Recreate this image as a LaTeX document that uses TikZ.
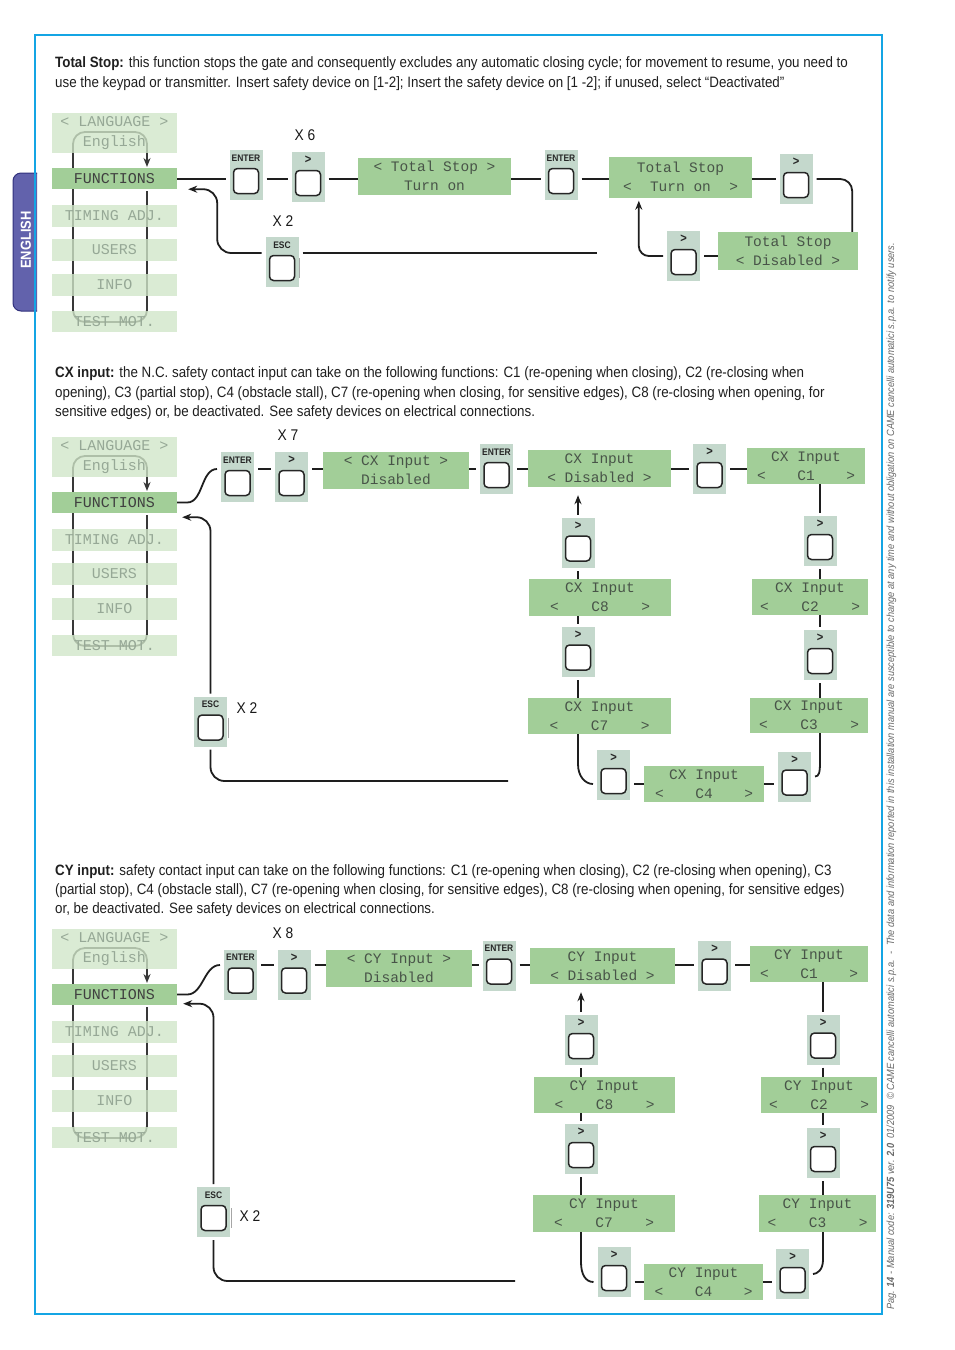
\documentclass[tikz,border=0pt]{standalone}
\usepackage{fontspec}
\setmainfont{Liberation Sans}[FakeStretch=0.89]
\newfontfamily\lcdfont{Liberation Mono}
\usetikzlibrary{arrows.meta,calc}
\definecolor{lcdg}{RGB}{162,206,152}
\definecolor{mlg}{RGB}{208,230,200}
\definecolor{btng}{RGB}{196,216,204}
\definecolor{lcdtxt}{RGB}{72,84,72}
\definecolor{mtxt}{RGB}{150,168,150}
\definecolor{linec}{RGB}{30,30,30}
\definecolor{bordc}{RGB}{20,165,228}
\definecolor{tabc}{RGB}{98,98,172}
\definecolor{tabd}{RGB}{50,50,125}
\definecolor{sidec}{RGB}{105,105,105}
\newcommand\lrline[2]{\makebox[#1]{<\hfill#2\hfill>}}
\newcommand\gtsym{{\fontsize{12.5}{12.5}\selectfont\bfseries >}}
\tikzset{
  ln/.style={draw=linec, line width=1.8pt},
  arr/.style={ln, -{Stealth[length=9pt,width=7pt]}},
  loopln/.style={draw=black!78, line width=1.8pt, -{Stealth[length=9pt,width=7pt]}},
  lcd/.style={fill=lcdg, inner sep=0pt, align=center, text=lcdtxt, font=\lcdfont\fontsize{14.5}{19}\selectfont},
  mlight/.style={fill=mlg, fill opacity=0.78, text opacity=1, minimum width=125pt, inner sep=0pt, align=center, text=mtxt, font=\lcdfont\fontsize{15}{20}\selectfont},
  mfun/.style={fill=lcdg, minimum width=125pt, minimum height=21pt, inner sep=0pt, text=black!75, font=\lcdfont\fontsize{15}{20}\selectfont},
  btnbg/.style={fill=btng, minimum width=33pt, minimum height=50pt, inner sep=0pt, outer xsep=4pt, outer ysep=3pt},
  btnlbl/.style={inner sep=0pt, text=black!85, font=\fontsize{9.5}{9.5}\selectfont\bfseries},
  btninner/.style={draw=black!85, line width=1.5pt, fill=white, rounded corners=4pt, minimum size=25pt, inner sep=0pt},
  escmark/.style={draw=gray!70, line width=1pt},
  xlbl/.style={inner sep=0pt, font=\fontsize{15.5}{15.5}\selectfont, text=black!90},
  body/.style={anchor=base west, inner sep=0pt, text=black!88, font=\fontsize{15}{16}\selectfont},
}
\newcommand\mkbtn[4]{%
  \node[btnbg] (#1) at (#2,#3) {};
  \node[btnlbl] (#1l) at (#2,{#3-17}) {#4};
  \node[btninner] (#1i) at (#2,{#3+6}) {};
}
\newcommand\mkgt[3]{\mkbtn{#1}{#2}{#3}{\gtsym}}
\newcommand\mkesc[3]{%
  \mkbtn{#1}{#2}{#3}{ESC}%
  \draw[escmark] ({#2+17.5},{#3-4}) -- ({#2+17.5},{#3+16});
}
\newcommand\drawmenu[2]{%
  \draw[loopln, rounded corners=12pt] (147,{191+#2}) -- (147,{322+#2}) -- (73,{322+#2}) -- (73,{132+#2}) -- (147,{132+#2}) -- (147,{167+#2});
  \node[mlight, minimum height=40pt] (lang#1) at (114.5,{133+#2}) {< LANGUAGE >\\English};
  \node[mfun] (fun#1) at (114.5,{178.5+#2}) {FUNCTIONS};
  \node[mlight, minimum height=22pt] (tim#1) at (114.5,{216+#2}) {TIMING ADJ.};
  \node[mlight, minimum height=22pt] (usr#1) at (114.5,{250+#2}) {USERS};
  \node[mlight, minimum height=22pt] (inf#1) at (114.5,{285+#2}) {INFO};
  \node[mlight, minimum height=21pt] (tst#1) at (114.5,{321.5+#2}) {TEST MOT.};
}
\begin{document}
\begin{tikzpicture}[x=1pt,y=-1pt]
\useasboundingbox (0,0) rectangle (954,1350);
\fill[white] (0,0) rectangle (954,1350);
% tab and border
\draw[fill=tabc, draw=tabd, line width=1pt, rounded corners=8pt] (37,173) -- (13,173) -- (13,311) -- (37,311);
\node[rotate=90, inner sep=0pt, text=white, font=\fontsize{14.5}{16}\selectfont\bfseries] (eng) at (26,240) {ENGLISH};
\draw[draw=bordc, line width=1.3pt] (35,35) rectangle (882,1314);
% side text
\node[rotate=90, anchor=base west, inner sep=0pt, text=sidec, font=\fontsize{10.4}{12}\selectfont\itshape] (side) at (894,1310) {Pag. \textbf{14} - Manual code: \textbf{319U75} ver. \textbf{2.0} \ 01/2009 \ © CAME cancelli automatici s.p.a. \ - \ The data and information reported in this installation manual are susceptible to change at any time and without obligation on CAME cancelli automatici s.p.a. to notify users.};
% paragraphs
\node[body] (p1a) at (55,67) {\textbf{Total Stop:} this function stops the gate and consequently excludes any automatic closing cycle; for movement to resume, you need to};
\node[body] (p1b) at (55,87) {use the keypad or transmitter. Insert safety device on [1-2]; Insert the safety device on [1 -2]; if unused, select “Deactivated”};
\node[body] (p2a) at (55,377) {\textbf{CX input:} the N.C. safety contact input can take on the following functions: C1 (re-opening when closing), C2 (re-closing when};
\node[body] (p2b) at (55,397) {opening), C3 (partial stop), C4 (obstacle stall), C7 (re-opening when closing, for sensitive edges), C8 (re-closing when opening, for};
\node[body] (p2c) at (55,416) {sensitive edges) or, be deactivated. See safety devices on electrical connections.};
\node[body] (p3a) at (55,875) {\textbf{CY input:} safety contact input can take on the following functions: C1 (re-opening when closing), C2 (re-closing when opening), C3};
\node[body] (p3b) at (55,894) {(partial stop), C4 (obstacle stall), C7 (re-opening when closing, for sensitive edges), C8 (re-closing when opening, for sensitive edges)};
\node[body] (p3c) at (55,913) {or, be deactivated. See safety devices on electrical connections.};

% ================= Section 1 : Total Stop
\drawmenu{a}{0}
\coordinate (r1) at (0,179);
\mkbtn{entA}{246}{175}{ENTER}
\mkgt{gtA}{308}{177}
\node[lcd, minimum width=153pt, minimum height=37pt] (tsA) at (434.5,176) {< Total Stop >\\Turn on};
\mkbtn{entB}{561}{175}{ENTER}
\node[lcd, minimum width=143pt, minimum height=41pt] (tsB) at (680.5,177) {Total Stop\\\lrline{115pt}{Turn on}};
\mkgt{gtB}{796}{179}
\node[lcd, minimum width=140pt, minimum height=38pt] (tsD) at (788,251) {Total Stop\\< Disabled >};
\mkgt{gtC}{683.5}{256}
\mkesc{escA}{282}{262}
\node[xlbl] (x6) at (305,135) {X 6};
\node[xlbl] (x2a) at (283,221) {X 2};
\coordinate (escEndA) at (597,253);
\draw[ln] (funa.east |- r1) -- (entA.west |- r1);
\draw[ln] (entA.east |- r1) -- (gtA.west |- r1);
\draw[ln] (gtA.east |- r1) -- (tsA.west |- r1);
\draw[ln] (tsA.east |- r1) -- (entB.west |- r1);
\draw[ln] (entB.east |- r1) -- (tsB.west |- r1);
\draw[ln] (tsB.east |- r1) -- (gtB.west |- r1);
\draw[ln, rounded corners=12pt] (gtB.east |- r1) -| ([xshift=-6pt]tsD.north east);
\draw[ln] (tsD.west |- gtC) -- (gtC.east);
\draw[arr, rounded corners=10pt] (gtC.west) -| ([xshift=30pt,yshift=-3pt]tsB.south west);
\draw[arr, rounded corners=14pt] ([yshift=9pt]escA.west) -| ([xshift=40pt]funa.south east) -- ([xshift=11pt]funa.south east);
\draw[ln] ([yshift=9pt]escA.east) -- (escEndA);

% ================= Section 2 : CX
\drawmenu{b}{324}
\coordinate (r2) at (0,469);
\mkbtn{entC1}{237.5}{477}{ENTER}
\mkgt{gtC1}{291.5}{477}
\node[lcd, minimum width=146pt, minimum height=37pt] (cxA) at (396,470) {< CX Input >\\Disabled};
\mkbtn{entC2}{496.5}{469}{ENTER}
\node[lcd, minimum width=143pt, minimum height=37pt] (cxDis) at (599.5,468.5) {CX Input\\< Disabled >};
\mkgt{gtC2}{709.5}{469}
\node[lcd, minimum width=118pt, minimum height=36pt] (cxC1) at (806,466) {CX Input\\\lrline{98pt}{C1}};
\mkgt{gtR1}{820}{541}
\node[lcd, minimum width=116pt, minimum height=36pt] (cxC2) at (810,597) {CX Input\\\lrline{100pt}{C2}};
\mkgt{gtR2}{820}{655}
\node[lcd, minimum width=118pt, minimum height=35pt] (cxC3) at (809,715.5) {CX Input\\\lrline{100pt}{C3}};
\mkgt{gtR3}{794.5}{776.5}
\node[lcd, minimum width=120pt, minimum height=36pt] (cxC4) at (704,784) {CX Input\\\lrline{98pt}{C4}};
\mkgt{gtL3}{613.5}{775}
\node[lcd, minimum width=143pt, minimum height=36pt] (cxC7) at (599.5,716) {CX Input\\\lrline{100pt}{C7}};
\mkgt{gtL2}{578}{651.5}
\node[lcd, minimum width=142pt, minimum height=37pt] (cxC8) at (600,597.5) {CX Input\\\lrline{100pt}{C8}};
\mkgt{gtL1}{578}{542.5}
\mkesc{escC}{210.5}{721.5}
\node[xlbl] (x7) at (288,435) {X 7};
\node[xlbl] (x2b) at (247,708) {X 2};
\coordinate (escEndC) at (508,781);
\draw[ln] (funb.east) -- ++(10,0) .. controls +(16,0) and +(-16,0) .. ([yshift=8pt]entC1.west);
\draw[ln] (entC1.east |- r2) -- (gtC1.west |- r2);
\draw[ln] (gtC1.east |- r2) -- (cxA.west |- r2);
\draw[ln] (cxA.east |- r2) -- (entC2.west |- r2);
\draw[ln] (entC2.east |- r2) -- (cxDis.west |- r2);
\draw[ln] (cxDis.east |- r2) -- (gtC2.west |- r2);
\draw[ln] (gtC2.east |- r2) -- (cxC1.west |- r2);
\draw[ln] (cxC1.south -| gtR1) -- (gtR1.north);
\draw[ln] (gtR1.south) -- (cxC2.north -| gtR1);
\draw[ln] (cxC2.south -| gtR2) -- (gtR2.north);
\draw[ln] (gtR2.south) -- (cxC3.north -| gtR2);
\draw[ln] (cxC3.south -| gtR2) -- ($(gtR3.east -| gtR2)+(0,-14)$) .. controls +(0,10) and +(4,0) .. (gtR3.east);
\draw[ln] (cxC4.east) -- (gtR3.west |- cxC4.east);
\draw[ln] (gtL3.east |- cxC4.west) -- (cxC4.west);
\draw[ln] (cxC7.south -| gtL2) -- ($(cxC7.south -| gtL2)+(0,30)$) .. controls +(0,12) and +(-8,0) .. (gtL3.west |- cxC4);
\draw[ln] (cxC7.north -| gtL2) -- (gtL2.south);
\draw[ln] (gtL2.north) -- (cxC8.south -| gtL2);
\draw[ln] (cxC8.north -| gtL1) -- (gtL1.south);
\draw[arr, shorten >=8pt] (gtL1.north) -- (cxDis.south -| gtL1);
\draw[arr, rounded corners=14pt] (escC.north) |- ([xshift=5pt,yshift=-4pt]funb.south east);
\draw[ln, rounded corners=14pt] (escC.south) |- (escEndC);

% ================= Section 3 : CY
\drawmenu{c}{816}
\coordinate (r3) at (0,965);
\mkbtn{entY1}{240.5}{974.5}{ENTER}
\mkgt{gtY1}{294}{974.5}
\node[lcd, minimum width=146pt, minimum height=37pt] (cyA) at (399,968.5) {< CY Input >\\Disabled};
\mkbtn{entY2}{499}{965.5}{ENTER}
\node[lcd, minimum width=145pt, minimum height=36pt] (cyDis) at (602.5,966) {CY Input\\< Disabled >};
\mkgt{gtY2}{714.5}{965.5}
\node[lcd, minimum width=118pt, minimum height=36pt] (cyC1) at (809,964) {CY Input\\\lrline{98pt}{C1}};
\mkgt{gtYR1}{823}{1039.5}
\node[lcd, minimum width=116pt, minimum height=36pt] (cyC2) at (819,1095) {CY Input\\\lrline{100pt}{C2}};
\mkgt{gtYR2}{823}{1153}
\node[lcd, minimum width=117pt, minimum height=37pt] (cyC3) at (817.5,1213.5) {CY Input\\\lrline{100pt}{C3}};
\mkgt{gtYR3}{792.5}{1274}
\node[lcd, minimum width=119pt, minimum height=36pt] (cyC4) at (703.5,1282) {CY Input\\\lrline{98pt}{C4}};
\mkgt{gtYL3}{614}{1272}
\node[lcd, minimum width=142pt, minimum height=37pt] (cyC7) at (604,1213.5) {CY Input\\\lrline{100pt}{C7}};
\mkgt{gtYL2}{581}{1149}
\node[lcd, minimum width=141pt, minimum height=36pt] (cyC8) at (604.5,1095) {CY Input\\\lrline{100pt}{C8}};
\mkgt{gtYL1}{581}{1040}
\mkesc{escY}{213.5}{1212}
\node[xlbl] (x8) at (283,933) {X 8};
\node[xlbl] (x2c) at (250,1216) {X 2};
\coordinate (escEndY) at (515,1281);
\draw[ln] (func.east) -- ++(10,0) .. controls +(16,0) and +(-16,0) .. ([yshift=9.5pt]entY1.west);
\draw[ln] (entY1.east |- r3) -- (gtY1.west |- r3);
\draw[ln] (gtY1.east |- r3) -- (cyA.west |- r3);
\draw[ln] (cyA.east |- r3) -- (entY2.west |- r3);
\draw[ln] (entY2.east |- r3) -- (cyDis.west |- r3);
\draw[ln] (cyDis.east |- r3) -- (gtY2.west |- r3);
\draw[ln] (gtY2.east |- r3) -- (cyC1.west |- r3);
\draw[ln] (cyC1.south -| gtYR1) -- (gtYR1.north);
\draw[ln] (gtYR1.south) -- (cyC2.north -| gtYR1);
\draw[ln] (cyC2.south -| gtYR2) -- (gtYR2.north);
\draw[ln] (gtYR2.south) -- (cyC3.north -| gtYR2);
\draw[ln] (cyC3.south -| gtYR2) -- ($(gtYR3.east -| gtYR2)+(0,-14)$) .. controls +(0,10) and +(4,0) .. (gtYR3.east);
\draw[ln] (cyC4.east) -- (gtYR3.west |- cyC4.east);
\draw[ln] (gtYL3.east |- cyC4.west) -- (cyC4.west);
\draw[ln] (cyC7.south -| gtYL2) -- ($(cyC7.south -| gtYL2)+(0,30)$) .. controls +(0,12) and +(-8,0) .. (gtYL3.west |- cyC4);
\draw[ln] (cyC7.north -| gtYL2) -- (gtYL2.south);
\draw[ln] (gtYL2.north) -- (cyC8.south -| gtYL2);
\draw[ln] (cyC8.north -| gtYL1) -- (gtYL1.south);
\draw[arr, shorten >=8pt] (gtYL1.north) -- (cyDis.south -| gtYL1);
\draw[arr, rounded corners=14pt] (escY.north) |- ([xshift=6pt,yshift=1.5pt]func.south east);
\draw[ln, rounded corners=14pt] (escY.south) |- (escEndY);
\end{tikzpicture}
\end{document}
